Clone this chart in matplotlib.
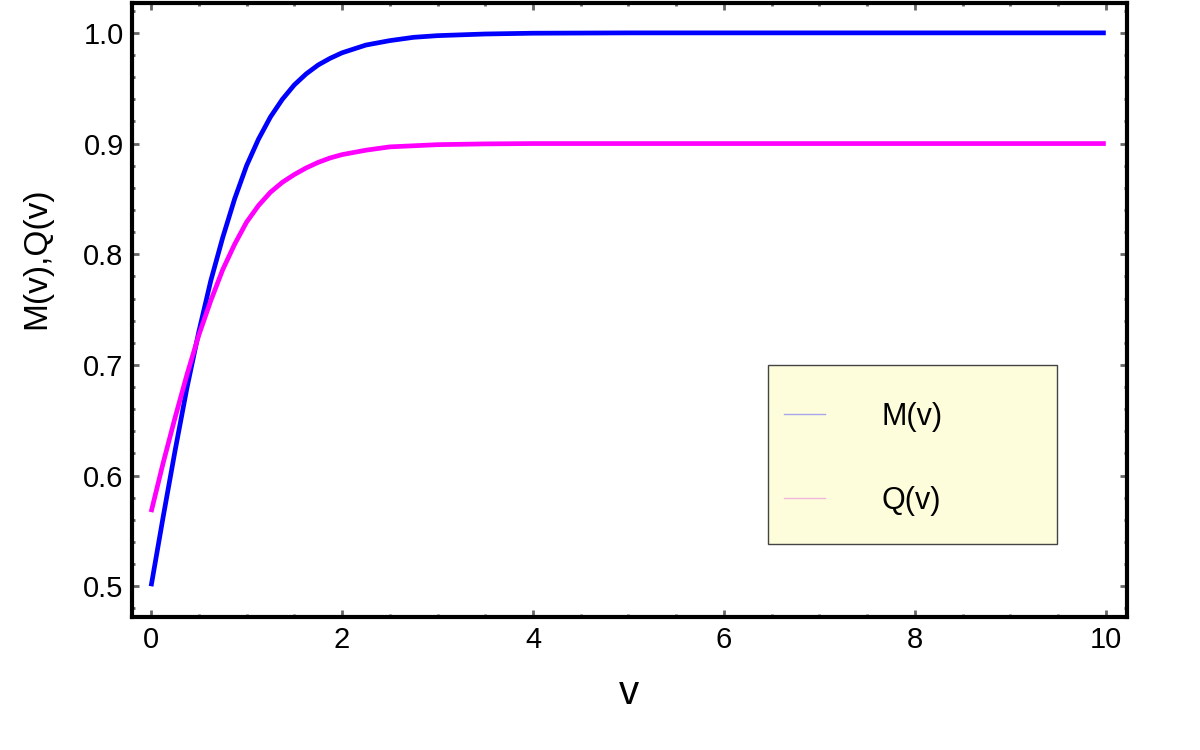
import matplotlib
matplotlib.use("Agg")
import numpy as np
from matplotlib import pyplot as plt
from matplotlib.lines import Line2D
from matplotlib.patches import Rectangle
from matplotlib.ticker import MultipleLocator, AutoMinorLocator

plt.rcParams['font.family'] = ['Liberation Sans', 'DejaVu Sans']

# values
v = [0, 0.125, 0.25, 0.375, 0.5, 0.625, 0.75, 0.875, 1.0, 1.125, 1.25, 1.375, 1.5, 1.625, 1.75,
     1.875, 2.0, 2.25, 2.5, 2.75, 3.0, 3.5, 4.0, 5.0, 6.0, 8.0, 10.0]
m_v = [0.500, 0.562, 0.622, 0.679, 0.730, 0.776, 0.815, 0.850, 0.880, 0.904, 0.924, 0.940, 0.953,
       0.963, 0.971, 0.977, 0.982, 0.989, 0.993, 0.996, 0.9975, 0.999, 0.9997, 1.0, 1.0, 1.0, 1.0]
q_v = [0.567, 0.611, 0.652, 0.691, 0.727, 0.758, 0.786, 0.809, 0.829, 0.844, 0.856, 0.865, 0.872,
       0.878, 0.883, 0.887, 0.890, 0.894, 0.897, 0.898, 0.899, 0.8997, 0.900, 0.900, 0.900, 0.900,
       0.900]
labels = ['M(v)', 'Q(v)']
colors = ['#0000ff', '#ff00ff']
legend_colors = ['#a6a6ee', '#f2b6dc']


def plot_result():
    fig = plt.figure(figsize=(12, 7.5), dpi=100)
    ax = fig.add_axes([0.11, 0.177, 0.829, 0.819])

    for ys, c in zip([m_v, q_v], colors):
        ax.plot(v, ys, color=c, lw=3.4, solid_capstyle='butt', solid_joinstyle='round')

    ax.set_xlim(-0.2, 10.22)
    ax.set_ylim(0.472, 1.027)
    ax.xaxis.set_major_locator(MultipleLocator(2))
    ax.xaxis.set_minor_locator(AutoMinorLocator(4))
    ax.yaxis.set_major_locator(MultipleLocator(0.1))
    ax.yaxis.set_minor_locator(AutoMinorLocator(5))
    ax.set_yticks([0.5, 0.6, 0.7, 0.8, 0.9, 1.0])
    ax.set_yticklabels(['0.5', '0.6', '0.7', '0.8', '0.9', '1.0'])

    for s in ax.spines.values():
        s.set_linewidth(3)
        s.set_color('black')
    ax.tick_params(which='both', direction='in', top=True, right=True,
                   color='#666666', labelsize=21, pad=6)
    ax.tick_params(which='major', length=5, width=2)
    ax.tick_params(which='minor', length=2.5, width=2)

    ax.set_xlabel('v', fontsize=29)
    ax.xaxis.set_label_coords(0.5, -0.093)
    ax.set_ylabel('M(v),Q(v)', fontsize=24)
    ax.yaxis.set_label_coords(-0.08, 0.585)

    # legend box drawn by hand, entries via legend
    ax.add_patch(Rectangle((0.639, 0.119), 0.291, 0.291, transform=ax.transAxes,
                           facecolor='#fdfddb', edgecolor='#444444', lw=1, zorder=4))
    handles = [Line2D([], [], color=c, lw=1) for c in legend_colors]
    leg = ax.legend(handles, labels, loc='upper left', bbox_to_anchor=(0.64, 0.375),
                    frameon=False, fontsize=22, handlelength=1.35, handletextpad=1.83,
                    labelspacing=1.75, borderpad=0)
    leg.set_zorder(5)

    fig.savefig('out.png', dpi=100)


if __name__ == "__main__":
    plot_result()
